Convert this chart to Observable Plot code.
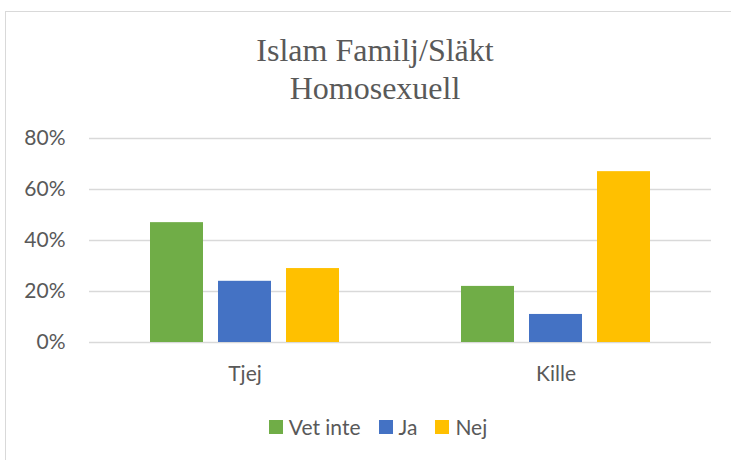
<!DOCTYPE html>
<html>
<head>
<meta charset="utf-8">
<script src="https://cdn.jsdelivr.net/npm/d3@7"></script>
<script src="https://cdn.jsdelivr.net/npm/@observablehq/plot@0.6"></script>
<style>
  html, body { margin: 0; padding: 0; background: #fff; }
  #wrap { position: relative; width: 731px; height: 460px; overflow: hidden; background: #fff; }
  #frame { position: absolute; left: 5px; top: 11px; width: 800px; height: 520px; border: 1px solid #d9d9d9; box-sizing: border-box; }
  #title { position: absolute; left: 5px; width: 740px; top: 31px; text-align: center;
           font-family: "Liberation Serif", "Times New Roman", serif; font-size: 32px; line-height: 38px; color: #595959; }
  #chart { position: absolute; left: 0; top: 0; }
  #legend { position: absolute; left: 0; width: 756px; top: 417px; display: flex; justify-content: center; align-items: center;
            font-family: Lato, sans-serif; font-size: 21px; line-height: 20px; color: #595959; }
  .item { display: flex; align-items: center; margin: 0 9px; }
  .sw { width: 14px; height: 14px; margin-right: 6px; }
</style>
</head>
<body>
<div id="wrap">
  <div id="frame"></div>
  <div id="chart"></div>
  <div id="title">Islam Familj/Släkt<br>Homosexuell</div>
  <div id="legend"></div>
</div>
<script>
const categories = ["Tjej", "Kille"];
const series = ["Vet inte", "Ja", "Nej"];
const vetInte = [0.47, 0.22];
const ja = [0.24, 0.11];
const nej = [0.29, 0.67];
const yTicks = [0, 0.2, 0.4, 0.6, 0.8];
const colors = ["#70AD47", "#4472C4", "#FFC000"];

const values = [vetInte, ja, nej];
const data = [];
categories.forEach((c, ci) => {
  series.forEach((s, si) => data.push({cat: c, serie: s, value: values[si][ci]}));
});

const chart = Plot.plot({
  width: 731,
  height: 460,
  marginLeft: 88,
  marginRight: 20,
  marginTop: 138,
  marginBottom: 118,
  style: {fontFamily: "Lato, sans-serif", fontSize: "21px", color: "#595959", background: "transparent"},
  fx: {domain: categories, padding: 0, label: null, axis: "bottom", tickSize: 0, tickPadding: 24},
  x: {domain: series, paddingInner: 0.217, paddingOuter: 0.874, axis: null},
  y: {domain: [0, 0.8], ticks: yTicks, tickFormat: d3.format(".0%"), label: null, tickSize: 0, tickPadding: 24},
  color: {domain: series, range: colors},
  marks: [
    Plot.gridY(yTicks, {stroke: "#d9d9d9", strokeOpacity: 1, strokeWidth: 1.3}),
    Plot.barY(data, {fx: "cat", x: "serie", y: "value", fill: "serie"})
  ]
});
document.getElementById("chart").appendChild(chart);

const legend = document.getElementById("legend");
series.forEach((s, i) => {
  const it = document.createElement("div");
  it.className = "item";
  const sw = document.createElement("div");
  sw.className = "sw";
  sw.style.background = colors[i];
  const t = document.createElement("span");
  t.textContent = s;
  it.appendChild(sw);
  it.appendChild(t);
  legend.appendChild(it);
});
</script>
</body>
</html>
